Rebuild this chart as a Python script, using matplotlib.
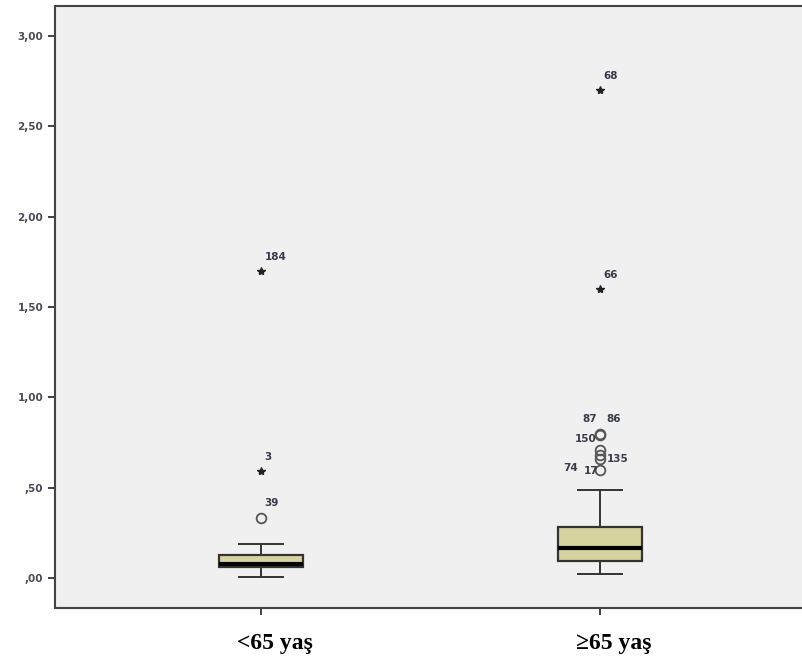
import matplotlib
matplotlib.use("Agg")
import matplotlib.pyplot as plt

# kutu grafiği özetleri (okunan değerler)
gruplar = ["<65 yaş", "\u226565 yaş"]
alt_bigi = [0.006, 0.022]
q1 = [0.061, 0.094]
medyan = [0.075, 0.166]
q3 = [0.127, 0.282]
ust_bigi = [0.188, 0.487]

# aykırı değerler: (değer, vaka no)
daire_1 = [(0.33, "39")]
yildiz_1 = [(0.59, "3"), (1.70, "184")]
daire_2 = [(0.60, "17"), (0.66, "74"), (0.68, "135"), (0.71, "150"), (0.79, "87"), (0.80, "86")]
yildiz_2 = [(1.60, "66"), (2.70, "68")]

yticks = [0.0, 0.5, 1.0, 1.5, 2.0, 2.5, 3.0]
ylabels = [",00", ",50", "1,00", "1,50", "2,00", "2,50", "3,00"]

fig = plt.figure(figsize=(8.02, 6.67), dpi=100)
ax = fig.add_axes([0.0686, 0.0885, 0.9314, 0.9025])
ax.set_facecolor("#f0f0f0")

stats = []
for i in range(2):
    stats.append(dict(whislo=alt_bigi[i], q1=q1[i], med=medyan[i], q3=q3[i],
                      whishi=ust_bigi[i], fliers=[]))
ax.bxp(stats, positions=[1, 2], widths=0.25, patch_artist=True,
       boxprops=dict(facecolor="#d6d39e", edgecolor="#333333", linewidth=1.6),
       medianprops=dict(color="black", linewidth=3),
       whiskerprops=dict(color="#333333", linewidth=1.4),
       capprops=dict(color="#333333", linewidth=1.4),
       capwidths=0.13)

lbl = dict(fontsize=7.5, fontweight="bold", color="#3a3a4a")

# grup 1
for v, n in daire_1:
    ax.plot(1, v, "o", mfc="none", mec="#555555", ms=7, mew=1.3)
    ax.text(1.01, v + 0.06, n, ha="left", va="bottom", **lbl)
for v, n in yildiz_1:
    ax.plot(1, v, "*", color="#222222", ms=6)
    ax.text(1.01, v + 0.05, n, ha="left", va="bottom", **lbl)

# grup 2
for v, n in daire_2:
    ax.plot(2, v, "o", mfc="none", mec="#555555", ms=7, mew=1.3)
konum = {"17": (1.995, 0.59, "right"), "74": (1.935, 0.61, "right"),
         "135": (2.02, 0.66, "left"), "150": (1.99, 0.77, "right"),
         "87": (1.99, 0.88, "right"), "86": (2.02, 0.88, "left")}
for v, n in daire_2:
    x, y, h = konum[n]
    ax.text(x, y, n, ha=h, va="center", **lbl)
for v, n in yildiz_2:
    ax.plot(2, v, "*", color="#222222", ms=6)
    ax.text(2.01, v + 0.05, n, ha="left", va="bottom", **lbl)

ax.set_xlim(0.392, 2.596)
ax.set_ylim(-0.166, 3.167)
ax.set_yticks(yticks)
ax.set_yticklabels(ylabels, fontsize=7.5, fontweight="bold", color="#4a4a5a")
ax.set_xticks([1, 2])
ax.set_xticklabels(["", ""])
ax.tick_params(axis="both", length=5, width=1.3, color="#333333")
for s in ["left", "bottom", "top"]:
    ax.spines[s].set_color("#444444")
    ax.spines[s].set_linewidth(1.5)
ax.spines["right"].set_visible(False)

for i, g in enumerate(gruplar):
    ax.text(i + 1.04, -0.36, g, ha="center", va="center", fontsize=17,
            fontweight="bold", family="Liberation Serif", clip_on=False)

fig.savefig("out.png", dpi=100)
